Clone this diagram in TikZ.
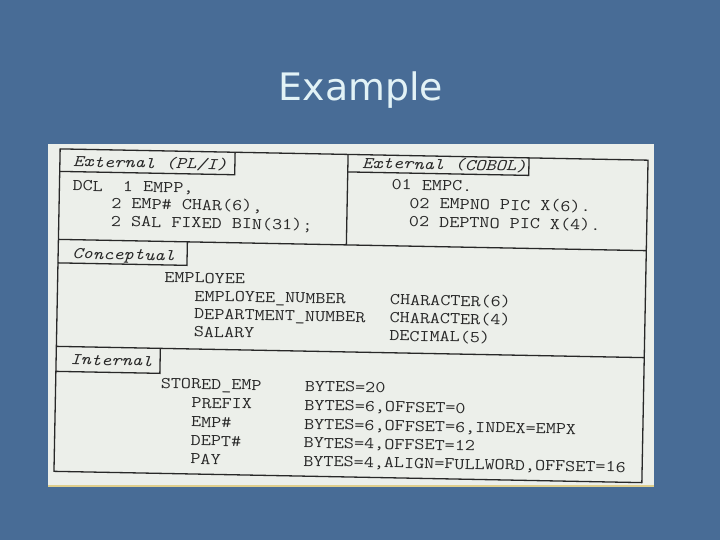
\documentclass[tikz,border=0pt]{standalone}
\usepackage{fontspec}
\setsansfont{DejaVu Sans}
\begin{document}
\begin{tikzpicture}[x=1bp,y=-1bp]
\definecolor{slide}{RGB}{72,108,150}
\definecolor{paper}{RGB}{236,239,234}
\definecolor{ink}{RGB}{40,40,40}
\definecolor{titlecol}{RGB}{226,242,246}
\definecolor{edgeline}{RGB}{222,206,140}
\tikzset{code/.style = {anchor=base west,inner sep=0pt,xscale=1.19,text height=9bp,text depth=2bp,text=ink,font=\ttfamily\fontsize{16.5}{19}\selectfont}}
\tikzset{tab/.style = {code,font=\ttfamily\itshape\fontsize{16.5}{19}\selectfont}}
\tikzset{rule/.style = {draw=ink,line width=1.3bp}}
% slide
\fill[slide] (0,0) rectangle (720,540);
\useasboundingbox (0,0) rectangle (720,540);
\node[anchor=base,inner sep=0pt,text=titlecol,font=\sffamily\fontsize{38}{40}\selectfont] (title) at (361,101) {Example};
\fill[paper] (48,144) rectangle (654,486);
\draw[edgeline,line width=1.2bp] (48,486) -- (654,486);
\begin{scope}[rotate around={-1.1:(350.75,315.75)},transform shape]
% frame
\draw[rule] (57,154.5) rectangle (645,477);
\draw[rule] (57,245) -- (645,245);
\draw[rule] (57,352) -- (645,352);
\draw[rule] (345,154.5) -- (345,245);
% tabs
\draw[rule] (57,177) -| (232,154.5);
\draw[rule] (345,172) -| (526,154.5);
\draw[rule] (57,268.5) -| (186,245);
\draw[rule] (57,377) -| (161,352);
% external
\node[tab] (pli) at (70,172) {External (PL/I)};
\node[code] (pli1) at (70,196) {DCL\ \ 1 EMPP,};
\node[code] (pli2) at (109,213) {2 EMP\# CHAR(6),};
\node[code] (pli3) at (109,231) {2 SAL FIXED BIN(31);};
\node[tab] (cobol) at (359,168) {External (COBOL)};
\node[code] (cob1) at (389,189) {01 EMPC.};
\node[code] (cob2) at (407,207) {02 EMPNO PIC X(6).};
\node[code] (cob3) at (407,225.5) {02 DEPTNO PIC X(4).};
% conceptual
\node[tab] (concept) at (71,264) {Conceptual};
\node[code] (emp) at (163.5,286) {EMPLOYEE};
\node[code] (empno) at (194,304) {EMPLOYEE\_NUMBER};
\node[code] (deptno) at (194,322) {DEPARTMENT\_NUMBER};
\node[code] (salary) at (194,340) {SALARY};
\node[code] (char6) at (389.5,304) {CHARACTER(6)};
\node[code] (char4) at (389.5,322) {CHARACTER(4)};
\node[code] (dec5) at (389.5,340) {DECIMAL(5)};
% internal
\node[tab] (internal) at (71,370) {Internal};
\node[code] (stored) at (162,392) {STORED\_EMP};
\node[code] (prefix) at (193,411) {PREFIX};
\node[code] (empf) at (193,430) {EMP\#};
\node[code] (deptf) at (193,448.5) {DEPT\#};
\node[code] (pay) at (193,467) {PAY};
\node[code] (b20) at (306,392) {BYTES=20};
\node[code] (b6a) at (306,411) {BYTES=6,OFFSET=0};
\node[code] (b6b) at (306,430) {BYTES=6,OFFSET=6,INDEX=EMPX};
\node[code] (b4a) at (306,448.5) {BYTES=4,OFFSET=12};
\node[code] (b4b) at (306,467) {BYTES=4,ALIGN=FULLWORD,OFFSET=16};
\end{scope}
\end{tikzpicture}
\end{document}
